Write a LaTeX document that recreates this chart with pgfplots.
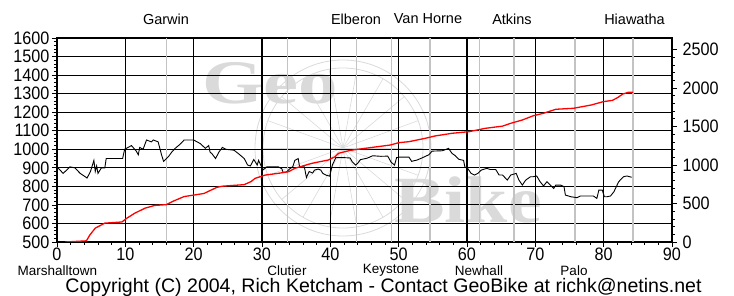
\documentclass[border=0pt]{standalone}
\usepackage{pgfplots}
\pgfplotsset{compat=1.18}
\usepackage{fontspec}
\setmainfont{Liberation Sans}
\newfontfamily\tickfont[FakeStretch=0.9]{Liberation Sans}
\newfontfamily\wmfont{Liberation Serif}
\definecolor{wm}{RGB}{218,218,218}
\definecolor{townline}{RGB}{195,195,195}
\pgfplotsset{
  /pgf/number format/assume math mode=true,
  /pgf/number format/1000 sep={},
  base/.style={at={(0,0)},anchor=south west,scale only axis,width=615pt,height=204pt,xmin=0,xmax=90},
}
\begin{document}
\begin{tikzpicture}[x=1pt,y=1pt]
\useasboundingbox (-57,-54) rectangle (677,242);
% watermark
\node[anchor=base west,text=wm,inner sep=0,font=\wmfont\bfseries\fontsize{62}{62}\selectfont] at (145,138) {\scalebox{1.27}[1]{Geo}};
\node[anchor=base west,text=wm,inner sep=0,font=\wmfont\bfseries\fontsize{66}{66}\selectfont] at (337,19) {\scalebox{1.15}[1]{Bike}};
\draw[wm,line width=0.8pt] (286,94) circle (88);
\draw[wm,line width=0.8pt] (286,94) circle (80);
\foreach \a in {0,20,...,340} \draw[wm,line width=0.6pt] (286,94) -- ++(\a:80);
% main axis
\begin{axis}[base,ymin=500,ymax=1600,
  xtick={0,10,...,90},ytick={500,600,...,1600},
  minor x tick num=4,minor y tick num=4,
  grid=major,major grid style={black,line width=1.1pt},
  extra x ticks={16,33.7,43.8,49,54.6,61.8,66.9,75.8,84.3},
  extra x tick labels={},
  extra x tick style={grid=major,major grid style={townline,line width=1.3pt},major tick length=0pt,tick style={draw=none}},
  axis line style={black,line width=1.1pt},
  tick align=outside,major tick length=5pt,minor tick length=3pt,
  tick style={black,line width=0.8pt},
  xtick pos=bottom,ytick pos=left,
  tick label style={font=\tickfont\fontsize{18}{18}\selectfont},
  xticklabel style={yshift=3pt},
  yticklabel style={xshift=1pt},
  clip=false]
\addplot[black,line width=0.9pt] coordinates {
(0,905)(0.9,870)(1.9,905)(2.6,900)(3.4,870)(4.4,845)(4.9,880)(5.4,940)(5.6,880)(5.8,910)(6.0,870)(6.5,900)(7.0,900)(7.2,950)(9.6,950)(9.9,1000)(10.9,1020)(11.6,990)(11.9,970)(12.1,1010)(12.6,1000)(13.1,1050)(13.8,1040)(14.1,1050)(14.8,1040)(15.3,970)(15.6,935)(16.3,960)(16.8,985)(17.3,1005)(18.1,1030)(18.6,1050)(20.0,1050)(21.0,1030)(21.7,1005)(22.2,1020)(22.4,985)(22.7,975)(23.2,950)(23.7,985)(24.2,1010)(24.7,1000)(25.9,995)(26.6,975)(27.4,950)(27.9,915)(28.3,910)(28.8,945)(29.3,915)(29.5,940)(30.0,900)(30.2,890)(30.7,905)(31.5,905)(32.4,905)(32.9,895)(33.1,875)(33.6,878)(34.0,893)(34.5,905)(34.8,940)(35.3,950)(35.5,905)(36.2,905)(36.5,848)(36.9,880)(37.4,872)(37.7,888)(38.2,893)(38.6,888)(38.9,870)(39.4,860)(39.9,855)(40.3,915)(40.8,955)(42.0,955)(42.9,953)(43.2,933)(43.7,915)(44.0,924)(44.4,944)(45.4,952)(46.2,965)(47.4,962)(48.4,963)(48.9,930)(49.4,915)(49.7,955)(50.2,958)(51.5,958)(51.9,935)(52.7,942)(53.4,953)(54.4,970)(54.9,990)(56.4,992)(57.3,1005)(57.8,978)(58.3,965)(58.8,946)(59.5,940)(59.7,903)(60.1,897)(60.6,870)(61.1,861)(61.6,870)(62.1,888)(62.9,897)(63.4,891)(64.2,891)(64.7,861)(65.2,861)(65.9,834)(66.4,861)(67.2,870)(67.6,834)(68.1,807)(68.6,834)(69.3,852)(69.7,852)(70.2,856)(70.7,825)(71.2,802)(71.7,825)(72.2,807)(72.7,789)(73.0,807)(73.7,807)(74.2,798)(74.4,753)(75.2,744)(76.1,739)(76.6,748)(77.6,748)(78.5,748)(79.0,735)(79.3,780)(79.8,780)(80.1,744)(80.5,744)(81.0,748)(81.5,771)(82.2,825)(82.9,852)(83.4,856)(84.1,849)
};
\end{axis}
% right axis
\begin{axis}[base,ymin=0,ymax=2650,
  axis y line*=right,axis x line=none,
  ytick={0,500,...,2500},minor y tick num=4,
  axis line style={black,line width=1.1pt},
  tick align=outside,major tick length=5pt,minor tick length=3pt,
  tick style={black,line width=0.8pt},
  tick label style={font=\tickfont\fontsize{18}{18}\selectfont},
  yticklabel style={xshift=2pt}]
\addplot[red,line width=1.3pt] coordinates {
(1.2,0)(4.3,15)(4.8,90)(5.6,180)(7.0,245)(9.5,260)(10.2,308)(11.4,375)(12.9,440)(14.3,475)(16.0,485)(17.0,530)(18.6,590)(21.5,630)(23.4,710)(24.2,725)(27.4,745)(28.4,785)(29.0,827)(30.5,870)(32.4,892)(33.9,913)(34.8,957)(37.3,1022)(39.7,1065)(40.7,1108)(41.2,1152)(42.9,1190)(45.1,1217)(48.8,1260)(50.0,1290)(51.5,1303)(53.9,1347)(55.3,1377)(57.8,1412)(60.3,1433)(62.7,1477)(65.2,1505)(66.4,1542)(68.1,1585)(69.7,1640)(71.2,1672)(73.0,1724)(75.6,1737)(78.2,1780)(79.9,1822)(81.3,1840)(82.1,1879)(82.8,1922)(83.6,1944)(84.3,1944)
};
\end{axis}
% town labels
\begin{scope}[every node/.style={font=\fontsize{14.5}{14.5}\selectfont,inner sep=0}]
\node at (109,223) {Garwin};
\node at (299,223) {Elberon};
\node at (371,223) {Van Horne};
\node at (455,223) {Atkins};
\node at (577.5,223) {Hiawatha};
\end{scope}
\begin{scope}[every node/.style={font=\fontsize{13.5}{13.5}\selectfont,inner sep=0}]
\node at (0.5,-28.5) {Marshalltown};
\node at (230,-28.5) {Clutier};
\node at (334,-28.5) {Keystone};
\node at (422,-28.5) {Newhall};
\node at (517,-28.5) {Palo};
\end{scope}
\node[anchor=base,inner sep=0] at (326.5,-50.8) {\resizebox{636pt}{!}{\fontsize{14.5}{14.5}\selectfont Copyright (C) 2004, Rich Ketcham - Contact GeoBike at richk@netins.net}};
\end{tikzpicture}
\end{document}
